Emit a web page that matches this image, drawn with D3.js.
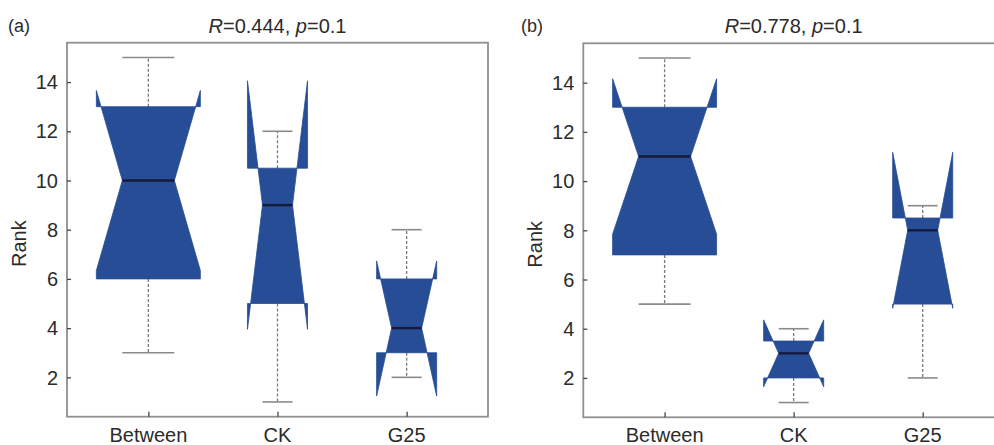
<!DOCTYPE html>
<html>
<head>
<meta charset="utf-8">
<script src="https://cdn.jsdelivr.net/npm/d3@7"></script>
<style>
  html, body { margin: 0; padding: 0; background: #fff; }
  svg { display: block; font-family: "Liberation Sans", Arial, sans-serif; }
</style>
</head>
<body>
<svg id="chart" width="994" height="445"></svg>
<script>
// Groups and tick values
const categories = ["Between", "CK", "G25"];
const groupSizes = [9, 3, 3];
const yTicks = [2, 4, 6, 8, 10, 12, 14];

// Panel (a): R=0.444, p=0.1
const titleA = { R: "0.444", p: "0.1" };
const whiskerLowA = [3, 1, 2];
const q1A = [6, 5, 3];
const medianA = [10, 9, 4];
const q3A = [13, 10.5, 6];
const whiskerHighA = [15, 12, 8];
const notchLowA = [6.34, 3.95, 1.24];
const notchHighA = [13.66, 14.05, 6.73];

// Panel (b): R=0.778, p=0.1
const titleB = { R: "0.778", p: "0.1" };
const whiskerLowB = [5, 1, 2];
const q1B = [7, 2, 5];
const medianB = [11, 3, 8];
const q3B = [13, 3.5, 8.5];
const whiskerHighB = [15, 4, 9];
const notchLowB = [7.84, 1.64, 4.83];
const notchHighB = [14.16, 4.36, 11.17];

const svg = d3.select("#chart");
const boxFill = "#264d95";
const frameColor = "#8f8f8f";
const textColor = "#2b2b2b";

function buildRows(lo, q1, med, q3, hi, nLo, nHi) {
  return categories.map((c, i) => ({
    cat: c, n: groupSizes[i],
    lo: lo[i], q1: q1[i], med: med[i], q3: q3[i], hi: hi[i],
    nLo: nLo[i], nHi: nHi[i]
  }));
}

function drawPanel(opts) {
  const { left, right, top, bottom, tag, tagX, title, rows } = opts;
  const g = svg.append("g");

  const x = d3.scalePoint().domain(categories).range([left, right]).padding(0.63);
  const y = d3.scaleLinear().domain([0.4, 15.6]).range([bottom, top]);
  const maxN = d3.max(groupSizes);
  const halfW = n => 52 * Math.sqrt(n / maxN);

  // frame
  g.append("rect")
    .attr("x", left).attr("y", top)
    .attr("width", right - left).attr("height", bottom - top)
    .attr("fill", "none").attr("stroke", frameColor).attr("stroke-width", 1.8);

  // y axis ticks (inward) and labels
  const yAxis = d3.axisRight(y).tickValues(yTicks).tickSize(4).tickFormat("");
  g.append("g").attr("transform", `translate(${left},0)`).call(yAxis)
    .call(s => s.select(".domain").remove())
    .call(s => s.selectAll("line").attr("stroke", "#444").attr("stroke-width", 1.3));
  g.selectAll(".ylab").data(yTicks).join("text")
    .attr("x", left - 9).attr("y", d => y(d)).attr("dy", "0.36em")
    .attr("text-anchor", "end").attr("font-size", 20).attr("fill", textColor)
    .text(d => d);

  // x axis ticks (inward) and labels
  const xAxis = d3.axisTop(x).tickSize(5).tickFormat("");
  g.append("g").attr("transform", `translate(0,${bottom})`).call(xAxis)
    .call(s => s.select(".domain").remove())
    .call(s => s.selectAll("line").attr("stroke", "#444").attr("stroke-width", 1.3));
  g.selectAll(".xlab").data(categories).join("text")
    .attr("x", d => x(d)).attr("y", 441.5)
    .attr("text-anchor", "middle").attr("font-size", 20).attr("fill", textColor)
    .text(d => d);

  // y label
  g.append("text")
    .attr("transform", `translate(${left - 41},${(top + bottom) / 2 + 14}) rotate(-90)`)
    .attr("text-anchor", "middle").attr("font-size", 20).attr("fill", textColor)
    .text("Rank");

  // title with italic statistic names
  const t = g.append("text")
    .attr("x", x("CK")).attr("y", 33)
    .attr("text-anchor", "middle").attr("font-size", 20).attr("fill", textColor);
  t.append("tspan").attr("font-style", "italic").text("R");
  t.append("tspan").text("=" + title.R + ", ");
  t.append("tspan").attr("font-style", "italic").text("p");
  t.append("tspan").text("=" + title.p);

  // panel tag
  g.append("text").attr("x", tagX).attr("y", 32)
    .attr("font-size", 18).attr("fill", textColor).text(tag);

  // boxes
  const box = g.selectAll(".box").data(rows).join("g");

  // dashed whiskers
  box.append("line")
    .attr("x1", d => x(d.cat)).attr("x2", d => x(d.cat))
    .attr("y1", d => y(d.q3)).attr("y2", d => y(d.hi))
    .attr("stroke", "#7a7a7a").attr("stroke-width", 1.3).attr("stroke-dasharray", "3,2");
  box.append("line")
    .attr("x1", d => x(d.cat)).attr("x2", d => x(d.cat))
    .attr("y1", d => y(d.q1)).attr("y2", d => y(d.lo))
    .attr("stroke", "#7a7a7a").attr("stroke-width", 1.3).attr("stroke-dasharray", "3,2");

  // whisker caps
  [["hi"], ["lo"]].forEach(([k]) => {
    box.append("line")
      .attr("x1", d => x(d.cat) - halfW(d.n) / 2).attr("x2", d => x(d.cat) + halfW(d.n) / 2)
      .attr("y1", d => y(d[k])).attr("y2", d => y(d[k]))
      .attr("stroke", "#8a8a8a").attr("stroke-width", 1.6);
  });

  // notched box outline
  box.append("path")
    .attr("d", d => {
      const cx = x(d.cat), w = halfW(d.n), ind = w / 2;
      const pts = [
        [cx - w, y(d.q1)], [cx - w, y(d.nLo)], [cx - ind, y(d.med)],
        [cx - w, y(d.nHi)], [cx - w, y(d.q3)], [cx + w, y(d.q3)],
        [cx + w, y(d.nHi)], [cx + ind, y(d.med)], [cx + w, y(d.nLo)],
        [cx + w, y(d.q1)]
      ];
      return d3.line()(pts) + "Z";
    })
    .attr("fill", boxFill).attr("stroke", boxFill).attr("stroke-width", 0.8)
    .attr("stroke-linejoin", "miter");

  // median
  box.append("line")
    .attr("x1", d => x(d.cat) - halfW(d.n) / 2).attr("x2", d => x(d.cat) + halfW(d.n) / 2)
    .attr("y1", d => y(d.med)).attr("y2", d => y(d.med))
    .attr("stroke", "#151a3d").attr("stroke-width", 2.4);
}

drawPanel({
  left: 67, right: 488, top: 42.7, bottom: 416.7,
  tag: "(a)", tagX: 8, title: titleA,
  rows: buildRows(whiskerLowA, q1A, medianA, q3A, whiskerHighA, notchLowA, notchHighA)
});

drawPanel({
  left: 583.3, right: 1004, top: 43.3, bottom: 417.3,
  tag: "(b)", tagX: 521, title: titleB,
  rows: buildRows(whiskerLowB, q1B, medianB, q3B, whiskerHighB, notchLowB, notchHighB)
});
</script>
</body>
</html>
